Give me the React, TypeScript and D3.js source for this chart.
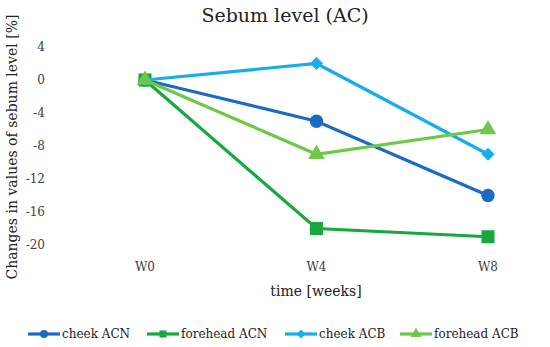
import React from 'react';
import * as d3 from 'd3';

const weeks = ['W0', 'W4', 'W8'];
const yTicks = [4, 0, -4, -8, -12, -16, -20];

const cheekACN = [0, -5, -14];
const foreheadACN = [0, -18, -19];
const cheekACB = [0, 2, -9];
const foreheadACB = [0, -9, -6];

const seriesNames = ['cheek ACN', 'forehead ACN', 'cheek ACB', 'forehead ACB'];
const seriesValues = [cheekACN, foreheadACN, cheekACB, foreheadACB];
const seriesColors = ['#1b6ac4', '#17a83e', '#16aeea', '#6cc846'];
const seriesSymbols = [d3.symbolCircle, d3.symbolSquare, d3.symbolDiamond2, d3.symbolTriangle];
const markerSizes = [140, 170, 110, 120];
const legendX = [28, 147, 285, 400];

const W = 550;
const H = 347;
const font = '"DejaVu Serif", serif';

export default function App() {
  const x = d3.scalePoint<string>().domain(weeks).range([145, 488]);
  const y = d3.scaleLinear().domain([-20, 4]).range([245, 47]);

  const line = d3
    .line<number>()
    .x((_, i) => x(weeks[i]) as number)
    .y((d) => y(d));

  return (
    <svg width={W} height={H} style={{ position: 'absolute', left: 0, top: 0 }}>
      <rect width={W} height={H} fill="#fff" />
      <text x={285} y={22} textAnchor="middle" fontFamily={font} fontSize={19} fill="#222">
        Sebum level (AC)
      </text>

      {yTicks.map((t) => (
        <text key={t} x={45} y={y(t)} dy="0.35em" textAnchor="end" fontFamily={font} fontSize={12} fill="#404040">
          {t}
        </text>
      ))}

      {weeks.map((w) => (
        <text key={w} x={x(w)} y={271} textAnchor="middle" fontFamily={font} fontSize={12} fill="#404040">
          {w}
        </text>
      ))}

      <text x={316} y={296} textAnchor="middle" fontFamily={font} fontSize={14} fill="#222">
        time [weeks]
      </text>
      <text
        transform="translate(17,147) rotate(-90)"
        textAnchor="middle"
        fontFamily={font}
        fontSize={14}
        fill="#222"
      >
        Changes in values of sebum level [%]
      </text>

      {seriesValues.map((vals, s) => (
        <g key={seriesNames[s]}>
          <path d={line(vals) || ''} fill="none" stroke={seriesColors[s]} strokeWidth={3.2} />
          {vals.map((v, i) => (
            <path
              key={i}
              transform={`translate(${x(weeks[i])},${y(v)})`}
              d={d3.symbol(seriesSymbols[s], markerSizes[s])() || ''}
              fill={seriesColors[s]}
            />
          ))}
        </g>
      ))}

      {seriesNames.map((name, s) => (
        <g key={name} transform={`translate(${legendX[s]},334)`}>
          <line x1={0} x2={32} stroke={seriesColors[s]} strokeWidth={3.2} />
          <path transform="translate(16,0)" d={d3.symbol(seriesSymbols[s], 50)() || ''} fill={seriesColors[s]} />
          <text x={34} dy="0.35em" fontFamily={font} fontSize={12} fill="#222">
            {name}
          </text>
        </g>
      ))}
    </svg>
  );
}
